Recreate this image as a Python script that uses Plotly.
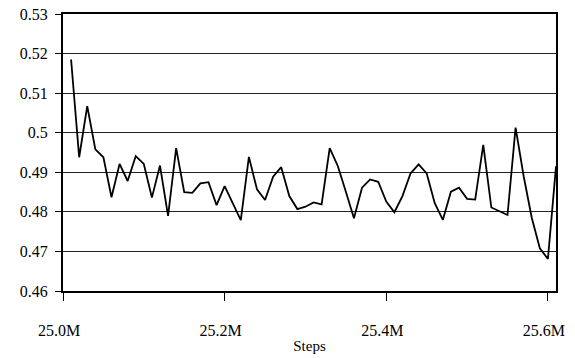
import plotly.graph_objects as go

steps_m = [25.01, 25.02, 25.03, 25.04, 25.05, 25.06, 25.07, 25.08, 25.09, 25.10,
           25.11, 25.12, 25.13, 25.14, 25.15, 25.16, 25.17, 25.18, 25.19, 25.20,
           25.21, 25.22, 25.23, 25.24, 25.25, 25.26, 25.27, 25.28, 25.29, 25.30,
           25.31, 25.32, 25.33, 25.34, 25.35, 25.36, 25.37, 25.38, 25.39, 25.40,
           25.41, 25.42, 25.43, 25.44, 25.45, 25.46, 25.47, 25.48, 25.49, 25.50,
           25.51, 25.52, 25.53, 25.54, 25.55, 25.56, 25.57, 25.58, 25.59, 25.60,
           25.61]
values = [0.5185, 0.4938, 0.5067, 0.4958, 0.4938, 0.4837, 0.4921, 0.4878, 0.4941, 0.4921,
          0.4836, 0.4917, 0.4790, 0.4961, 0.4850, 0.4848, 0.4872, 0.4875, 0.4817, 0.4865,
          0.4822, 0.4779, 0.4939, 0.4857, 0.4830, 0.4889, 0.4913, 0.4840, 0.4807, 0.4813,
          0.4824, 0.4819, 0.4961, 0.4916, 0.4851, 0.4784, 0.4861, 0.4882, 0.4876, 0.4826,
          0.4799, 0.4840, 0.4897, 0.4920, 0.4897, 0.4822, 0.4780, 0.4851, 0.4861, 0.4833,
          0.4831, 0.4969, 0.4811, 0.4802, 0.4792, 0.5013, 0.4890, 0.4785, 0.4708, 0.4681,
          0.4915]
x_tick_vals_m = [25.0, 25.2, 25.4, 25.6]
x_tick_text = ["25.0M", "25.2M", "25.4M", "25.6M"]

x = [v * 1e6 for v in steps_m]

fig = go.Figure()
fig.add_trace(go.Scatter(x=x, y=values, mode="lines",
                         line=dict(color="black", width=1.8), showlegend=False))

font = dict(family="Liberation Serif", size=16, color="black")

fig.update_layout(
    width=575, height=358,
    margin=dict(l=63, r=19, t=14, b=67),
    paper_bgcolor="white", plot_bgcolor="white",
    font=font,
    xaxis=dict(
        range=[25.0e6, 25.61e6], automargin=False,
        tickvals=[v * 1e6 for v in x_tick_vals_m],
        ticktext=[t + "\u00a0\u00a0" for t in x_tick_text],
        showgrid=False, zeroline=False,
        showline=True, linecolor="black", linewidth=2, mirror=True,
        ticks="outside", ticklen=8, tickwidth=1, tickcolor="black",
        ticklabelstandoff=16,
        title=dict(text="Steps", standoff=2, font=dict(size=15)),
    ),
    yaxis=dict(
        range=[0.46, 0.53], dtick=0.01, tick0=0.46, automargin=False,
        showgrid=True, gridcolor="#222222", gridwidth=1,
        zeroline=False,
        showline=True, linecolor="black", linewidth=2, mirror=True,
        ticks="outside", ticklen=6, tickwidth=1, tickcolor="black",
        ticklabelstandoff=4,
    ),
)

fig.write_html("out.html", config={"displayModeBar": False},
               post_script="document.body.style.margin='0';document.body.style.overflow='hidden';")
